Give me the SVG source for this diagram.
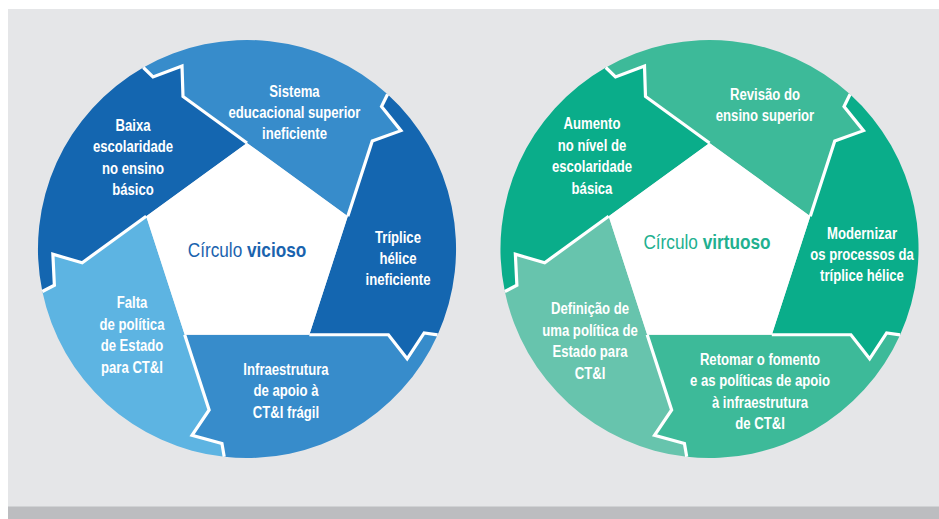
<svg xmlns="http://www.w3.org/2000/svg" width="939" height="519" viewBox="0 0 939 519">
<style>
  .t { font-family: "Liberation Sans", Arial, sans-serif; font-weight: bold; font-size: 16px; fill: #ffffff; text-anchor: middle; }
  .title { font-family: "Liberation Sans", Arial, sans-serif; font-size: 21px; text-anchor: middle; }
  .div { fill: none; stroke: #ffffff; stroke-width: 3.2; stroke-linejoin: miter; stroke-linecap: butt; }
  .dark-b { fill: #1466b0; }
  .mid-b { fill: #378ccb; }
  .light-b { fill: #5db4e2; }
  .dark-g { fill: #0aad8a; }
  .mid-g { fill: #3dba99; }
  .light-g { fill: #67c4ad; }
</style>
<defs>
  <path id="seg" d="M0,-106 L-64,-152.5 L-65,-183 L-94,-172 L-103.7,-181.5 A209,209 0 0 1 140.57,-154.71 L134.53,-142.55 L153.96,-118.37 L125.26,-107.99 L100.81,-32.76 Z"/>
  <polyline id="divline" points="0,-106 -64,-152.5 -65,-183 -94,-172 -103.7,-181.5"/>
  <polygon id="pent" points="0,-106 100.81,-32.76 62.31,85.76 -62.31,85.76 -100.81,-32.76"/>
</defs>

<rect x="0" y="0" width="939" height="519" fill="#ffffff"/>
<rect x="8" y="9" width="931" height="498" fill="#e5e6e8"/>
<rect x="8" y="506.5" width="931" height="12.5" fill="#bcbdc0"/>

<!-- Círculo vicioso -->
<g id="node-baixa">
  <use href="#seg" class="dark-b" transform="translate(247 249) rotate(288)"/>
  <text class="t" transform="translate(133 0) scale(0.82 1)"><tspan x="0" y="131">Baixa</tspan><tspan x="0" y="152.5">escolaridade</tspan><tspan x="0" y="174">no ensino</tspan><tspan x="0" y="195.5">básico</tspan></text>
</g>
<g id="node-sistema">
  <use href="#seg" class="mid-b" transform="translate(247 249)"/>
  <text class="t" transform="translate(294.5 0) scale(0.82 1)"><tspan x="0" y="97.5">Sistema</tspan><tspan x="0" y="118.5">educacional superior</tspan><tspan x="0" y="139.5">ineficiente</tspan></text>
</g>
<g id="node-triplice">
  <use href="#seg" class="dark-b" transform="translate(247 249) rotate(72)"/>
  <text class="t" transform="translate(398 0) scale(0.82 1)"><tspan x="0" y="243">Tríplice</tspan><tspan x="0" y="264">hélice</tspan><tspan x="0" y="285">ineficiente</tspan></text>
</g>
<g id="node-infraestrutura">
  <use href="#seg" class="mid-b" transform="translate(247 249) rotate(144)"/>
  <text class="t" transform="translate(286 0) scale(0.82 1)"><tspan x="0" y="375">Infraestrutura</tspan><tspan x="0" y="396.5">de apoio à</tspan><tspan x="0" y="418">CT&amp;I frágil</tspan></text>
</g>
<g id="node-falta">
  <use href="#seg" class="light-b" transform="translate(247 249) rotate(216)"/>
  <text class="t" transform="translate(132 0) scale(0.82 1)"><tspan x="0" y="308.5">Falta</tspan><tspan x="0" y="330">de política</tspan><tspan x="0" y="351.5">de Estado</tspan><tspan x="0" y="373">para CT&amp;I</tspan></text>
</g>
<g id="node-circulo-vicioso">
  <use href="#pent" fill="#ffffff" transform="translate(247 249)"/>
  <text class="title" fill="#1a63ae" transform="translate(247 0) scale(0.82 1)" x="0" y="256.7"><tspan font-weight="normal">Círculo </tspan><tspan font-weight="bold">vicioso</tspan></text>
</g>

<!-- Círculo virtuoso -->
<g id="node-aumento">
  <use href="#seg" class="dark-g" transform="translate(709.5 249) rotate(288)"/>
  <text class="t" transform="translate(592 0) scale(0.82 1)"><tspan x="0" y="129.5">Aumento</tspan><tspan x="0" y="151">no nível de</tspan><tspan x="0" y="172.5">escolaridade</tspan><tspan x="0" y="194">básica</tspan></text>
</g>
<g id="node-revisao">
  <use href="#seg" class="mid-g" transform="translate(709.5 249)"/>
  <text class="t" transform="translate(765 0) scale(0.82 1)"><tspan x="0" y="100">Revisão do</tspan><tspan x="0" y="121.5">ensino superior</tspan></text>
</g>
<g id="node-modernizar">
  <use href="#seg" class="dark-g" transform="translate(709.5 249) rotate(72)"/>
  <text class="t" transform="translate(862 0) scale(0.82 1)"><tspan x="0" y="239.5">Modernizar</tspan><tspan x="0" y="260.5">os processos da</tspan><tspan x="0" y="281.5">tríplice hélice</tspan></text>
</g>
<g id="node-retomar">
  <use href="#seg" class="mid-g" transform="translate(709.5 249) rotate(144)"/>
  <text class="t" transform="translate(760 0) scale(0.82 1)"><tspan x="0" y="365">Retomar o fomento</tspan><tspan x="0" y="386.5">e as políticas de apoio</tspan><tspan x="0" y="408">à infraestrutura</tspan><tspan x="0" y="429.5">de CT&amp;I</tspan></text>
</g>
<g id="node-definicao">
  <use href="#seg" class="light-g" transform="translate(709.5 249) rotate(216)"/>
  <text class="t" transform="translate(590 0) scale(0.82 1)"><tspan x="0" y="314.5">Definição de</tspan><tspan x="0" y="336">uma política de</tspan><tspan x="0" y="357.5">Estado para</tspan><tspan x="0" y="379">CT&amp;I</tspan></text>
</g>
<g id="node-circulo-virtuoso">
  <use href="#pent" fill="#ffffff" transform="translate(709.5 249)"/>
  <text class="title" fill="#22b08f" transform="translate(707 0) scale(0.82 1)" x="0" y="249.5"><tspan font-weight="normal">Círculo </tspan><tspan font-weight="bold">virtuoso</tspan></text>
</g>

<g id="connectors">
  <use href="#divline" class="div" transform="translate(247 249)"/>
  <use href="#divline" class="div" transform="translate(247 249) rotate(72)"/>
  <use href="#divline" class="div" transform="translate(247 249) rotate(144)"/>
  <use href="#divline" class="div" transform="translate(247 249) rotate(216)"/>
  <use href="#divline" class="div" transform="translate(247 249) rotate(288)"/>
  <use href="#divline" class="div" transform="translate(709.5 249)"/>
  <use href="#divline" class="div" transform="translate(709.5 249) rotate(72)"/>
  <use href="#divline" class="div" transform="translate(709.5 249) rotate(144)"/>
  <use href="#divline" class="div" transform="translate(709.5 249) rotate(216)"/>
  <use href="#divline" class="div" transform="translate(709.5 249) rotate(288)"/>
</g>
</svg>
